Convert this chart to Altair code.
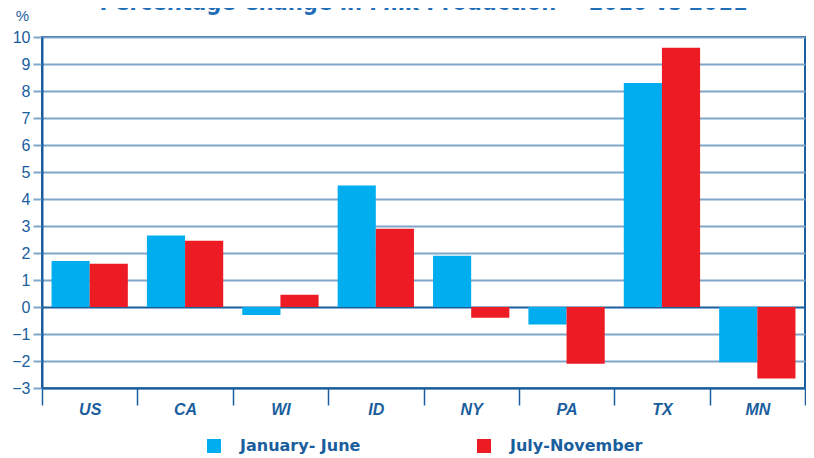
import altair as alt
import pandas as pd

states = ["US", "CA", "WI", "ID", "NY", "PA", "TX", "MN"]
jan_jun = [1.7, 2.65, -0.3, 4.5, 1.9, -0.65, 8.3, -2.05]
jul_nov = [1.6, 2.45, 0.45, 2.9, -0.4, -2.1, 9.6, -2.65]
series = ["January- June", "July-November"]
colors = ["#00AEEF", "#ED1C24"]
y_ticks = list(range(-3, 11))

rows = []
for s, a, b in zip(states, jan_jun, jul_nov):
    rows.append({"state": s, "period": series[0], "value": a})
    rows.append({"state": s, "period": series[1], "value": b})
df = pd.DataFrame(rows)

dark = "#1a5e9e"
gridc = "#7ea6c8"

chart = alt.Chart(df).mark_bar().encode(
    x=alt.X("state:N", sort=states,
            scale=alt.Scale(paddingInner=0, paddingOuter=0),
            axis=alt.Axis(title=None, tickBand="extent", tickSize=17, tickColor=dark,
                          tickWidth=1.5, labelPadding=-4, labelFont="Liberation Sans",
                          labelFontSize=16, labelFontWeight="bold", labelFontStyle="italic",
                          labelColor=dark, domainColor=dark, domainWidth=2, labelAngle=0,
                          grid=False)),
    xOffset=alt.XOffset("period:N", sort=series,
                        scale=alt.Scale(paddingOuter=0.25, paddingInner=0)),
    y=alt.Y("value:Q", scale=alt.Scale(domain=[-3, 10], nice=False),
            axis=alt.Axis(values=y_ticks, title="%", titleAngle=0, titleX=-20, titleY=-22,
                          titleAlign="center", titleBaseline="middle",
                          titleFont="Liberation Sans", titleFontSize=15,
                          titleFontWeight="normal", titleColor=dark,
                          labelFont="Liberation Sans", labelFontSize=16, labelColor=dark,
                          tickColor=gridc, tickSize=9, tickWidth=2, labelPadding=3,
                          domainColor=dark, domainWidth=2,
                          gridColor=alt.condition("datum.value === 0", alt.value(dark), alt.value(gridc)),
                          gridWidth=2)),
    color=alt.Color("period:N", sort=series,
                    scale=alt.Scale(domain=series, range=colors),
                    legend=alt.Legend(title=None, orient="none", legendX=164, legendY=401,
                                      direction="horizontal", symbolType="square",
                                      symbolSize=196, symbolStrokeWidth=0, labelOffset=18,
                                      columnPadding=115, labelFont="DejaVu Sans",
                                      labelFontSize=16, labelFontWeight="bold",
                                      labelColor=dark, padding=0)),
).properties(
    width=763,
    height=351,
    title=alt.TitleParams("Percentage Change in Milk Production -- 2010 vs 2011",
                          font="DejaVu Sans Condensed", fontSize=23.5, fontWeight="bold",
                          color="#1f6fb8", anchor="middle", offset=4, baseline="bottom", dy=34),
    autosize="none",
    padding={"left": 34, "top": 29, "right": 1, "bottom": 76},
).configure_view(stroke=dark, strokeWidth=2)

chart.save("out.html", embed_options={"renderer": "svg", "actions": False})
